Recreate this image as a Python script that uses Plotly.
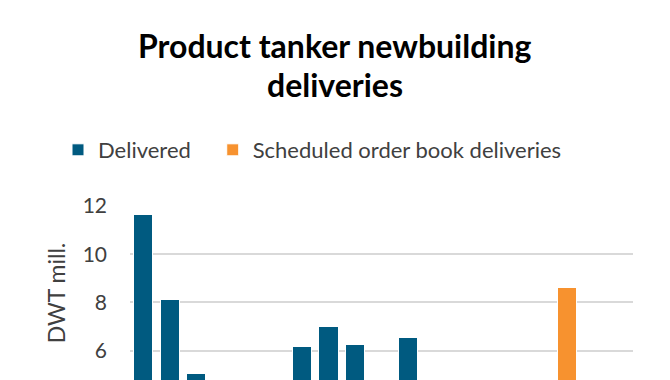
import plotly.graph_objects as go

years = [str(y) for y in range(2009, 2028)]
delivered = [11.66, 8.10, 5.03, 3.8, 3.3, 4.2, 6.16, 7.02, 6.26, 4.3, 6.56, 4.1, 4.0, 3.2, 2.4, 3.0, None, None, None]
scheduled = [None] * 16 + [8.61, 4.5, 2.0]
ytick_vals = [6, 8, 10, 12]
title_lines = ["Product tanker newbuilding", "deliveries"]
series_names = ["Delivered", "Scheduled order book deliveries"]

# page has an 8px body margin; figure is sized to end at the window edge
OFF = 8
W, H = 670 - OFF, 380 - OFF
ML, MR, MT, MB = 130 - OFF, 37, 206 - OFF, 0
plot_h = H - MT - MB
plot_w = W - ML - MR

def ypaper(px):
    return (H - MB - (px - OFF)) / plot_h

def xpaper(px):
    return ((px - OFF) - ML) / plot_w

BLUE = "#005A80"
ORANGE = "#F7922F"
FONT = "Lato"
NBSP = "\u00a0"

fig = go.Figure()
fig.add_trace(go.Bar(x=years, y=delivered, name=series_names[0] + NBSP * 3,
                     marker=dict(color=BLUE, line=dict(color="white", width=1))))
fig.add_trace(go.Bar(x=years, y=scheduled, name=series_names[1],
                     marker=dict(color=ORANGE, line=dict(color="white", width=1))))

for txt, yy in zip(title_lines, [45, 85]):
    fig.add_annotation(text="<b>%s</b>" % txt, xref="paper", yref="paper",
                       x=xpaper(335), y=ypaper(yy), showarrow=False,
                       font=dict(family=FONT, size=32, color="#000000"),
                       xanchor="center", yanchor="middle")

fig.update_layout(
    width=W, height=H,
    margin=dict(l=ML, r=MR, t=MT, b=MB, autoexpand=False),
    paper_bgcolor="white", plot_bgcolor="white",
    barmode="stack", bargap=0.27,
    font=dict(family=FONT, color="#404040"),
    showlegend=True,
    legend=dict(orientation="h", x=xpaper(58), xanchor="left",
                y=ypaper(150), yanchor="middle",
                font=dict(family=FONT, size=22, color="#404040"),
                bgcolor="rgba(0,0,0,0)", traceorder="normal"),
    xaxis=dict(type="category", showgrid=False, showline=False, zeroline=False,
               ticks="", automargin=False, showticklabels=False),
    yaxis=dict(range=[4.78, 12], tickvals=ytick_vals, ticktext=[str(v) for v in ytick_vals],
               showgrid=True, gridcolor="#D9D9D9", gridwidth=1.5, zeroline=False, showline=False,
               ticks="", automargin=False, ticklabelstandoff=22,
               tickfont=dict(family=FONT, size=21, color="#404040"),
               title=dict(text="DWT mill.", standoff=10,
                          font=dict(family=FONT, size=23, color="#404040"))),
)

fig.write_html("out.html")
